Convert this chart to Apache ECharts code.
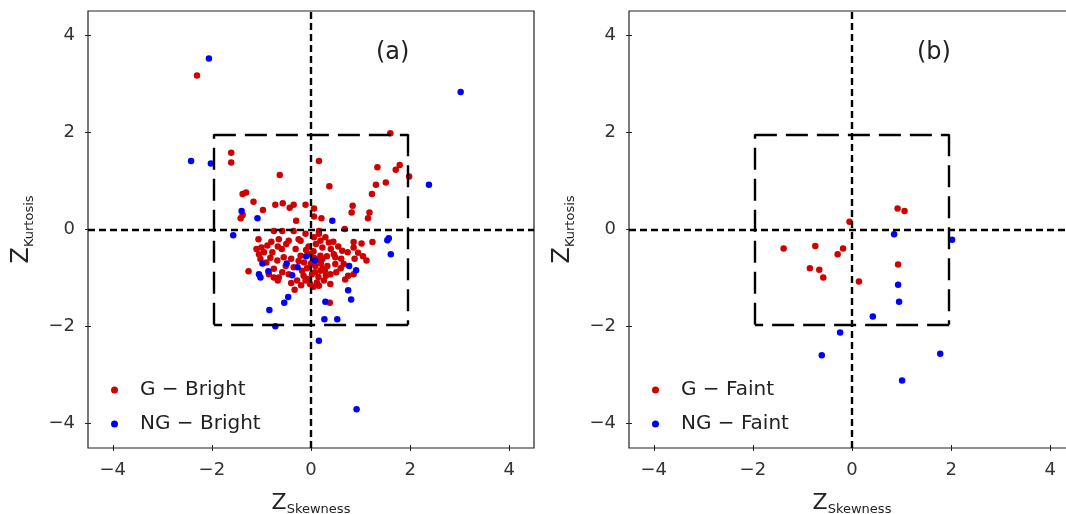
<!DOCTYPE html>
<html>
<head>
<meta charset="utf-8">
<script src="https://cdn.jsdelivr.net/npm/echarts@6/dist/echarts.min.js"></script>
<style>
  html, body { margin: 0; padding: 0; background: #fff; }
  #chart { width: 1066px; height: 514px; }
</style>
</head>
<body>
<div id="chart"></div>
<script>
// Z-scores (skewness, kurtosis) of the bright sample
const brightG = [
  [-2.30,3.17],[1.60,1.98],[-1.61,1.58],[-1.61,1.38],[0.16,1.41],[-0.63,1.12],[1.34,1.28],[1.79,1.33],
  [1.71,1.23],[1.98,1.09],[1.51,0.97],[1.31,0.92],[0.37,0.89],[1.23,0.73],[-1.31,0.76],[-1.38,0.73],
  [-1.16,0.57],[-0.97,0.40],[-0.72,0.51],[-0.57,0.54],[-0.43,0.45],[-0.35,0.51],[-0.11,0.51],[-0.30,0.18],
  [0.06,0.43],[0.06,0.27],[0.21,0.23],[0.84,0.49],[0.82,0.35],[1.18,0.35],[1.15,0.23],[-1.38,0.30],
  [-1.42,0.23],[0.68,0.01],
  [0.38,-1.51],[-0.33,-1.24],[-1.26,-0.86],[0.69,-1.03],[1.12,-0.64],[1.24,-0.26],[1.02,-0.29],[0.86,-0.26],
  [-1.06,-0.20],[-0.80,-0.25],[-0.67,-0.35],[-0.95,-0.47],[-0.59,-0.40],[-0.45,-0.23],[-0.31,-0.40],[-0.21,-0.23],
  [-0.58,-0.03],[-0.75,-0.03],[-0.35,-0.03],[-0.11,-0.09],[0.06,-0.16],[0.19,-0.23],[-0.78,-0.47],[-1.02,-0.61],
  [-0.68,-0.64],[-0.55,-0.57],[-0.75,-0.81],[-0.65,-0.99],[-0.75,-0.99],[-0.58,-0.88],[-0.45,-0.92],[-0.18,-0.85],
  [-0.14,-0.68],[-0.28,-1.05],[-0.08,-1.02],[0.02,-0.92],[0.12,-1.09],[0.09,-0.75],[0.19,-0.54],[0.23,-0.81],
  [-0.01,-0.51],[-0.21,-0.54],[-0.51,-0.75],[-0.85,-0.92],[-1.10,-0.40],[-0.88,-0.33],[0.16,-0.03],
  [0.16,-0.09],[0.29,-0.16],[0.36,-0.27],[0.23,-0.37],[0.46,-0.51],[0.63,-0.44],[0.74,-0.47],[0.88,-0.60],
  [0.61,-0.60],[0.66,-0.71],[0.49,-0.71],[0.23,-0.61],[0.33,-0.75],[0.19,-0.85],[0.39,-0.92],[0.51,-0.88],
  [0.86,-0.92],[0.26,-1.05],[0.39,-1.12],[0.16,-1.16],[0.49,-0.57],
  [-1.05,-0.51],[-1.00,-0.37],[-0.67,-1.05],[-0.11,-1.05],[0.86,-0.37],
  [-0.05,-0.35],[0.05,-0.45],[0.12,-0.62],[0.00,-0.70],[-0.08,-0.80],[0.08,-0.88],[0.15,-0.98],[-0.02,-1.12],
  [0.05,-1.18],[0.30,-0.95],[0.32,-0.55],[0.40,-0.40],[-0.25,-0.65],[-0.35,-0.78],[-0.40,-0.60],[-0.15,-0.95],
  [0.20,-0.70],[0.28,-0.85],[0.06,-0.58],[-0.10,-0.42],[0.55,-0.35],[0.45,-0.25],[-0.50,-0.30],[-0.25,-0.20],
  [-0.65,-0.20],[-0.90,-0.68],[-0.82,-0.58],[-0.40,-1.10],[0.10,-0.30],[0.60,-0.80],[0.75,-0.95],[0.95,-0.48],
  [1.05,-0.55],[-0.20,-1.15]
];
const brightNG = [
  [-2.06,3.52],[-2.42,1.41],[-2.02,1.36],[3.02,2.83],[2.38,0.92],[-1.40,0.38],[-1.08,0.23],[0.43,0.18],
  [-1.57,-0.12],[1.57,-0.18],[1.54,-0.22],[1.61,-0.51],[-0.98,-0.70],[-0.49,-0.70],[-0.10,-0.55],[0.08,-0.64],
  [-0.27,-0.78],[-0.86,-0.86],[-1.05,-0.92],[-1.02,-0.99],[-0.38,-0.94],[0.77,-0.75],[0.91,-0.84],[0.75,-1.25],
  [0.81,-1.44],[-0.46,-1.39],[-0.54,-1.51],[-0.84,-1.66],[0.29,-1.49],[0.27,-1.85],[0.53,-1.85],[-0.72,-1.99],
  [0.16,-2.29],[0.92,-3.70]
];
// Z-scores of the faint sample
const faintG = [
  [0.92,0.43],[1.06,0.38],[-0.05,0.16],[-1.38,-0.39],[-0.74,-0.34],[-0.18,-0.39],[-0.29,-0.51],[-0.85,-0.80],
  [-0.66,-0.83],[-0.58,-0.99],[0.14,-1.07],[0.93,-0.72]
];
const faintNG = [
  [0.85,-0.10],[2.02,-0.21],[0.93,-1.14],[0.95,-1.49],[0.42,-1.79],[-0.24,-2.12],[-0.61,-2.59],[1.78,-2.56],
  [1.01,-3.11]
];

const tickValues = [-4, -2, 0, 2, 4];
const axisRange = [-4.5, 4.5];
const zeroLines = [0];
const boxLimit = 1.96;
const seriesNames = [['G \u2212 Bright', 'NG \u2212 Bright'], ['G \u2212 Faint', 'NG \u2212 Faint']];
const panelTags = ['(a)', '(b)'];

const FONT = '"DejaVu Sans", sans-serif';
const RED = '#d00000';
const BLUE = '#0000ff';
const INK = '#222';

const gridLefts = [88, 629];
const gridRights = [532, -9];
const fmt = v => (v < 0 ? '\u2212' + Math.abs(v) : String(v));

const grids = gridLefts.map((l, g) => ({
  left: l, right: gridRights[g], top: 11, bottom: 66,
  containLabel: false, outerBoundsMode: 'none',
  show: true, borderColor: INK, borderWidth: 1.2, backgroundColor: 'transparent'
}));

const xAxes = [], yAxes = [];
gridLefts.forEach((_, g) => {
  const base = {
    type: 'value', gridIndex: g, min: axisRange[0], max: axisRange[1],
    splitLine: { show: false }, axisLine: { show: false, onZero: false }
  };
  xAxes.push(Object.assign({}, base, {
    position: 'bottom',
    axisTick: { show: true, customValues: tickValues, length: 3, lineStyle: { color: INK, width: 1 } },
    axisLabel: { customValues: tickValues, formatter: fmt, fontSize: 18, color: '#333', margin: 13, fontFamily: FONT },
    name: '{z|Z}{s|Skewness}', nameLocation: 'middle', nameGap: 42,
    nameTextStyle: {
      fontFamily: FONT, color: '#222',
      rich: {
        z: { fontSize: 22, fontFamily: FONT, color: '#222', lineHeight: 26 },
        s: { fontSize: 13, fontFamily: FONT, color: '#222', lineHeight: 12, verticalAlign: 'bottom' }
      }
    }
  }));
  xAxes.push(Object.assign({}, base, {
    position: 'bottom',
    axisTick: { show: true, inside: true, customValues: tickValues, length: 3, lineStyle: { color: INK, width: 1 } },
    axisLabel: { show: false }
  }));
  yAxes.push(Object.assign({}, base, {
    position: 'left',
    axisTick: { show: true, customValues: tickValues, length: 3, lineStyle: { color: INK, width: 1 } },
    axisLabel: { customValues: tickValues, formatter: fmt, fontSize: 18, color: '#333', margin: 13, fontFamily: FONT },
    name: '{z|Z}{s|Kurtosis}', nameLocation: 'middle', nameGap: 52,
    nameTextStyle: {
      fontFamily: FONT, color: '#222',
      rich: {
        z: { fontSize: 24, fontFamily: FONT, color: '#222', lineHeight: 28 },
        s: { fontSize: 13, fontFamily: FONT, color: '#222', lineHeight: 14, verticalAlign: 'bottom' }
      }
    }
  }));
  yAxes.push(Object.assign({}, base, {
    position: 'left',
    axisTick: { show: true, inside: true, customValues: tickValues, length: 3, lineStyle: { color: INK, width: 1 } },
    axisLabel: { show: false }
  }));
});

// dashed reference lines: zero cross-hairs and the |Z| = 1.96 box
function guideSeries(g) {
  const shortDash = { color: '#000', width: 2.4, type: [7, 4] };
  const longDash = { color: '#000', width: 2.4, type: [22, 9] };
  const b = boxLimit;
  const corners = [[-b, b], [b, b], [b, -b], [-b, -b]];
  const box = corners.map((c, i) => [
    { coord: c, lineStyle: longDash },
    { coord: corners[(i + 1) % 4] }
  ]);
  return {
    type: 'scatter', xAxisIndex: 2 * g, yAxisIndex: 2 * g, data: [], silent: true, z: 1,
    markLine: {
      silent: true, symbol: 'none', animation: false, label: { show: false },
      lineStyle: shortDash,
      data: [
        ...zeroLines.map(v => ({ xAxis: v })),
        ...zeroLines.map(v => ({ yAxis: v })),
        ...box
      ]
    }
  };
}

function pointSeries(g, name, data, color) {
  return {
    type: 'scatter', name, data, xAxisIndex: 2 * g, yAxisIndex: 2 * g,
    symbol: 'circle', symbolSize: 6.5, z: 3,
    itemStyle: { color, opacity: 1 },
    emphasis: { disabled: true }, animation: false
  };
}

const series = [
  guideSeries(0), guideSeries(1),
  pointSeries(0, seriesNames[0][0], brightG, RED),
  pointSeries(0, seriesNames[0][1], brightNG, BLUE),
  pointSeries(1, seriesNames[1][0], faintG, RED),
  pointSeries(1, seriesNames[1][1], faintNG, BLUE)
];

const legends = gridLefts.map((l, g) => ({
  data: seriesNames[g], orient: 'vertical', left: l + 18, top: 375,
  itemWidth: 7, itemHeight: 7, itemGap: 14, icon: 'circle',
  selectedMode: false,
  textStyle: { fontSize: 20, fontFamily: FONT, color: '#222', padding: [0, 0, 0, 17] }
}));

const tags = gridLefts.map((l, g) => ({
  type: 'text', left: l + 288, top: 41,
  style: { text: panelTags[g], fontSize: 24, fontFamily: FONT, fill: '#222' }
}));

const chart = echarts.init(document.getElementById('chart'), null, { renderer: 'canvas' });
chart.setOption({
  backgroundColor: '#fff',
  animation: false,
  grid: grids,
  xAxis: xAxes,
  yAxis: yAxes,
  legend: legends,
  series,
  graphic: tags
});
</script>
</body>
</html>
